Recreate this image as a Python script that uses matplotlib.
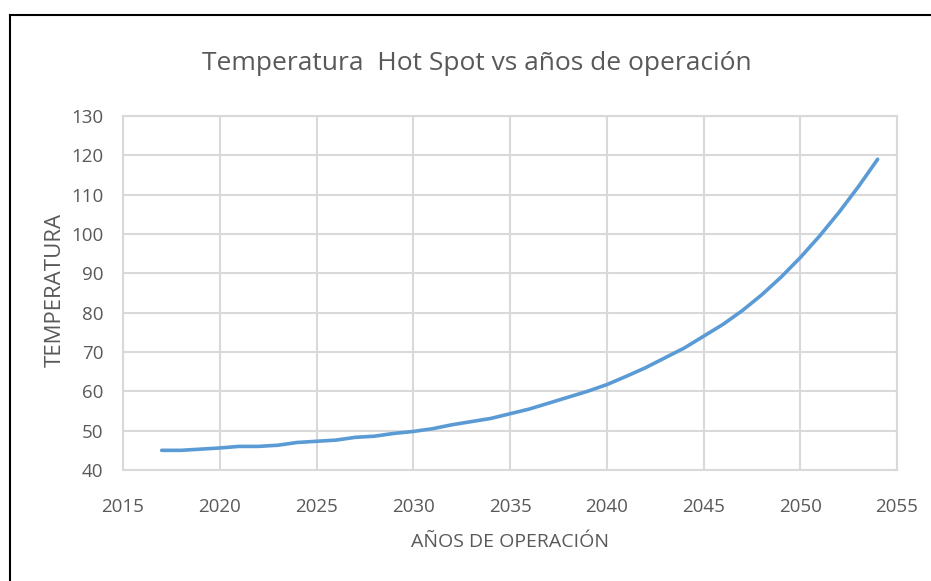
import numpy as np
import matplotlib.pyplot as plt
from matplotlib.lines import Line2D

# Datos
anios = list(range(2017, 2055))
temperatura = [45.0, 45.0, 45.3, 45.6, 46.0, 46.0, 46.3, 47.0, 47.3, 47.6,
               48.3, 48.6, 49.3, 49.8, 50.5, 51.5, 52.3, 53.1, 54.3, 55.5,
               57.0, 58.5, 60.0, 61.7, 63.8, 66.0, 68.5, 71.0, 74.0, 77.0,
               80.5, 84.5, 89.0, 94.0, 99.5, 105.5, 112.0, 119.0]
x_ticks = list(range(2015, 2060, 5))
y_ticks = list(range(40, 140, 10))

gris = '#595959'
plt.rcParams['font.family'] = ['Open Sans', 'DejaVu Sans']

fig = plt.figure(figsize=(9.31, 5.81), dpi=100)
ax = fig.add_axes([123/931, 1 - 470/581, (897 - 123)/931, (470 - 116)/581])

ax.plot(anios, temperatura, color='#5b9bd5', linewidth=2.6, solid_capstyle='round')

ax.set_xlim(2015, 2055)
ax.set_ylim(40, 130)
ax.set_xticks(x_ticks)
ax.set_yticks(y_ticks)
ax.grid(True, color='#d9d9d9', linewidth=1.5)
ax.set_axisbelow(True)
for lado in ['top', 'right', 'left', 'bottom']:
    ax.spines[lado].set_color('#d9d9d9')
    ax.spines[lado].set_linewidth(1.5)
ax.tick_params(length=0, labelsize=13.5, colors=gris)
ax.tick_params(axis='y', pad=14)
ax.tick_params(axis='x', pad=20)

fig.text(477/931, 1 - 63/581, 'Temperatura  Hot Spot vs años de operación',
         ha='center', va='center', fontsize=19, color=gris)
fig.text(55/931, 1 - 290/581, 'TEMPERATURA', rotation=90,
         ha='center', va='center', fontsize=16, color=gris)
fig.text(510/931, 1 - 542/581, 'AÑOS DE OPERACIÓN',
         ha='center', va='center', fontsize=14, color=gris)

# Marco exterior (solo borde superior e izquierdo visibles)
fig.add_artist(Line2D([10/931, 1.0], [1 - 15/581, 1 - 15/581], transform=fig.transFigure,
                      color='black', linewidth=1.5))
fig.add_artist(Line2D([10/931, 10/931], [0.0, 1 - 15/581], transform=fig.transFigure,
                      color='black', linewidth=1.5))

fig.savefig('out.png', dpi=100, facecolor='white')
